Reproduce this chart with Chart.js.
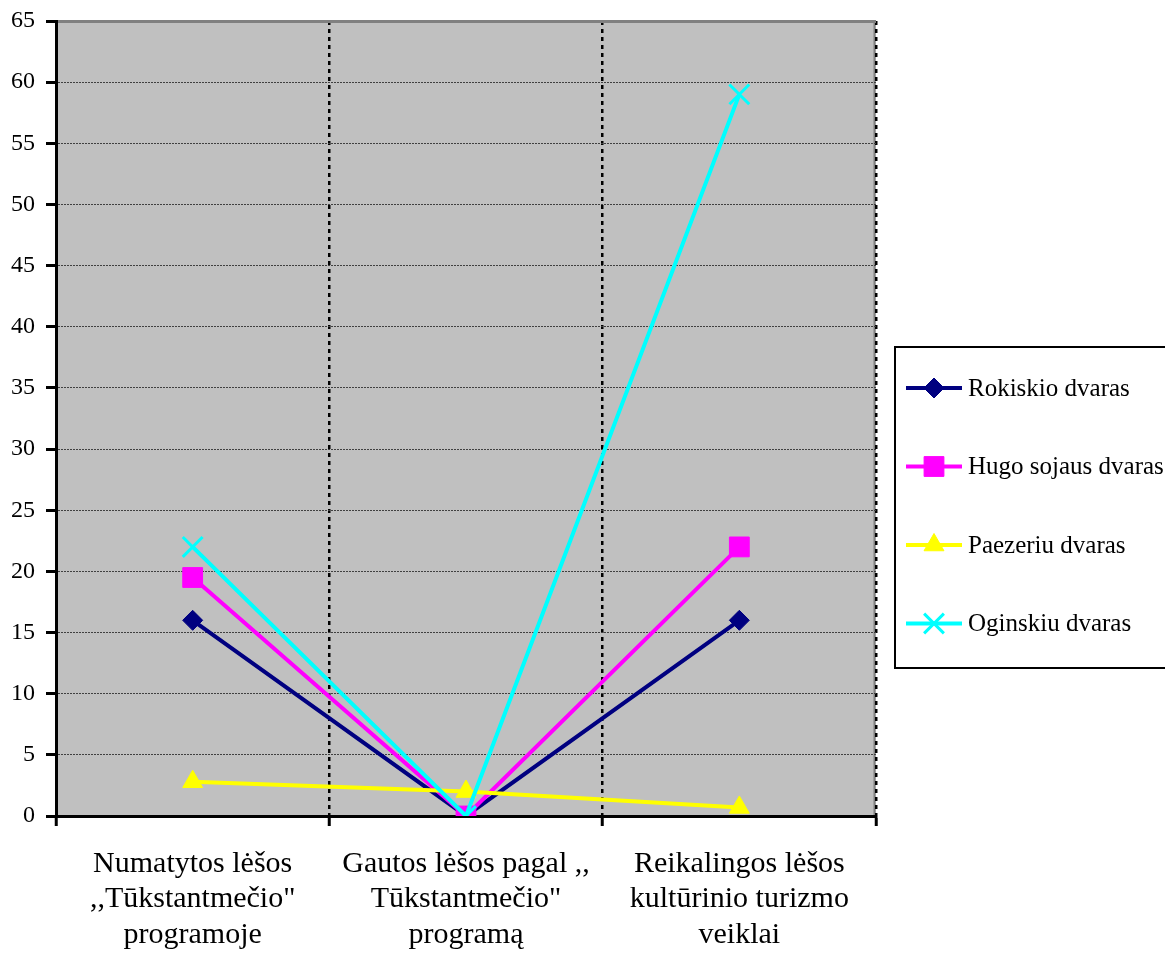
<!DOCTYPE html>
<html>
<head>
<meta charset="utf-8">
<script src="https://cdn.jsdelivr.net/npm/chart.js@4.4.1/dist/chart.umd.min.js"></script>
<style>
html,body{margin:0;padding:0;background:#fff;}
#wrap{width:1165px;height:953px;position:relative;}
</style>
</head>
<body>
<div id="wrap"><canvas id="c" width="1165" height="953"></canvas></div>
<script>
const categories = [
  ['Numatytos lėšos', ',,Tūkstantmečio"', 'programoje'],
  ['Gautos lėšos pagal ,,', 'Tūkstantmečio"', 'programą'],
  ['Reikalingos lėšos', 'kultūrinio turizmo', 'veiklai']
];
const seriesNames = ['Rokiskio dvaras', 'Hugo sojaus dvaras', 'Paezeriu dvaras', 'Oginskiu dvaras'];
const rokiskio = [16, 0, 16];
const hugo = [19.5, 0, 22];
const paezeriu = [2.8, 2, 0.7];
const oginskiu = [22, 0, 59];
const yMin = 0, yMax = 65, yStep = 5;

const FONT = '"Liberation Serif", "Times New Roman", serif';
const colors = ['#000080', '#FF00FF', '#FFFF00', '#00FFFF'];
const styles = [
  {pointStyle: 'rectRot', radius: 10, borderWidth: 1},
  {pointStyle: 'rect', radius: 14, borderWidth: 1},
  {pointStyle: 'triangle', radius: 11.5, borderWidth: 1},
  {pointStyle: 'crossRot', radius: 14, borderWidth: 3}
];
const values = [rokiskio, hugo, paezeriu, oginskiu];

const datasets = values.map((v, i) => ({
  label: seriesNames[i],
  data: v,
  borderColor: colors[i],
  backgroundColor: colors[i],
  borderWidth: 4,
  pointStyle: styles[i].pointStyle,
  pointRadius: styles[i].radius,
  pointHoverRadius: styles[i].radius,
  pointBorderWidth: styles[i].borderWidth,
  pointBackgroundColor: colors[i],
  pointBorderColor: colors[i],
  tension: 0,
  order: 3 - i
}));

const bgPlugin = {
  id: 'bg',
  beforeDraw(chart) {
    const {ctx, chartArea: a} = chart;
    ctx.save();
    ctx.fillStyle = '#C0C0C0';
    ctx.fillRect(a.left, a.top, a.right - a.left, a.bottom - a.top);
    ctx.strokeStyle = '#808080';
    ctx.lineWidth = 2;
    ctx.beginPath();
    ctx.moveTo(a.right - 1.5, a.top);
    ctx.lineTo(a.right - 1.5, a.bottom);
    ctx.stroke();
    ctx.restore();
  }
};

const legendPlugin = {
  id: 'customLegend',
  afterDraw(chart) {
    const ctx = chart.ctx;
    const left = 895, top = 347, w = 300, h = 321;
    ctx.save();
    ctx.fillStyle = '#fff';
    ctx.fillRect(left, top, w, h);
    ctx.lineWidth = 2;
    ctx.strokeStyle = '#000';
    ctx.strokeRect(left, top, w, h);
    ctx.font = '25px ' + FONT;
    ctx.textBaseline = 'middle';
    ctx.textAlign = 'left';
    seriesNames.forEach((name, i) => {
      const y = top + 41 + i * 78.5;
      ctx.strokeStyle = colors[i];
      ctx.fillStyle = colors[i];
      ctx.lineWidth = 4;
      ctx.setLineDash([]);
      ctx.beginPath();
      ctx.moveTo(906, y);
      ctx.lineTo(962, y);
      ctx.stroke();
      ctx.lineWidth = styles[i].borderWidth;
      Chart.helpers.drawPoint(ctx, {
        pointStyle: styles[i].pointStyle,
        radius: styles[i].radius,
        rotation: 0,
        borderWidth: styles[i].borderWidth
      }, 934, y);
      ctx.fillStyle = '#000';
      ctx.fillText(name, 968, y + 1);
    });
    ctx.restore();
  }
};

new Chart(document.getElementById('c'), {
  type: 'line',
  data: { labels: categories, datasets },
  options: {
    responsive: false,
    animation: false,
    devicePixelRatio: 1,
    layout: { padding: { left: 0, top: 21, right: 289, bottom: 0 } },
    plugins: { legend: { display: false }, tooltip: { enabled: false } },
    scales: {
      x: {
        offset: true,
        grid: {
          offset: true,
          display: true,
          color: '#000',
          lineWidth: 2.5,
          drawTicks: true,
          tickLength: 10,
          tickColor: '#000',
          tickWidth: 3,
          tickBorderDash: [],
          drawOnChartArea: true
        },
        border: { display: true, color: '#000', width: 3, dash: [4, 4] },
        ticks: {
          color: '#000',
          font: { family: FONT, size: 30, lineHeight: 1.185 },
          padding: 20,
          maxRotation: 0,
          autoSkip: false
        },
        afterFit(s) { s.height = 137; s.paddingLeft = 0; s.paddingRight = 0; }
      },
      y: {
        min: yMin, max: yMax,
        grid: {
          color: ctx => ctx.tick && ctx.tick.value === yMax ? '#808080' : '#404040',
          lineWidth: ctx => ctx.tick && ctx.tick.value === yMax ? 3 : 1,
          drawTicks: true,
          tickLength: 10,
          tickColor: '#000',
          tickWidth: 3,
          tickBorderDash: []
        },
        border: {
          display: true, color: '#000', width: 3,
          dash: ctx => ctx.tick && ctx.tick.value === yMax ? [] : [2, 1]
        },
        ticks: {
          stepSize: yStep,
          color: '#000',
          font: { family: FONT, size: 24 },
          padding: 11
        },
        afterFit(s) { s.width = 56; s.paddingTop = 0; s.paddingBottom = 0; }
      }
    }
  },
  plugins: [bgPlugin, legendPlugin]
});
</script>
</body>
</html>
